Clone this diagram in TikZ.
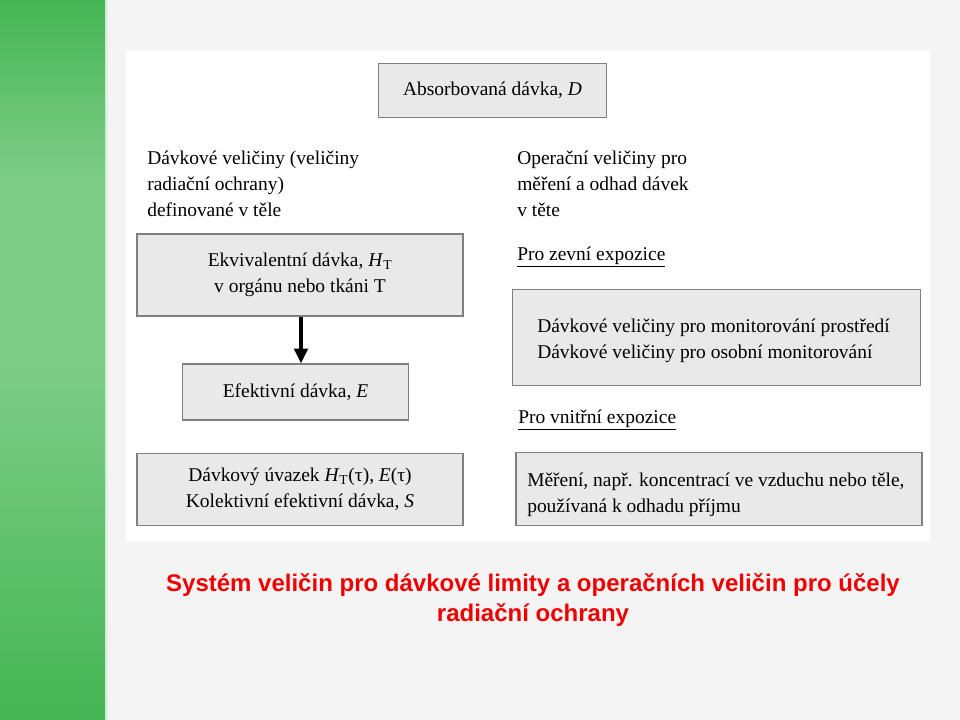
\documentclass[tikz,border=0pt]{standalone}
\usepackage{fontspec}
\setmainfont{Liberation Serif}
\newfontfamily\titlefont{Liberation Sans}
\usetikzlibrary{positioning,arrows.meta}
\usepackage{xcolor}
\definecolor{bgpage}{HTML}{F4F4F4}
\definecolor{boxfill}{HTML}{E9E9E9}
\definecolor{boxline}{HTML}{7F7F7F}
\definecolor{greentop}{RGB}{68,182,84}
\definecolor{greenmid}{RGB}{126,205,135}
\definecolor{titlered}{HTML}{F00000}

\begin{document}
\begin{tikzpicture}[
    x=0.75pt, y=-0.75pt,
    font=\fontsize{14.6}{19.5}\selectfont,
    qbox/.style={
        rectangle, draw=boxline, fill=boxfill, line width=0.9pt,
        inner sep=0pt, align=center
    },
    heading/.style={anchor=north west, align=left, inner sep=0pt},
    subhead/.style={anchor=west, inner sep=0pt},
    arrow/.style={-{Triangle[width=10pt,length=11pt]}, line width=3pt, black}
]
% page, green strip and white panel
\useasboundingbox (0,0) rectangle (960,720);
\fill[bgpage] (0,0) rectangle (960,720);
\shade[top color=greentop, bottom color=greenmid, middle color=greenmid]
    (0,0) rectangle (105,360);
\shade[top color=greenmid, bottom color=greentop]
    (0,360) rectangle (105,720);
\shade[left color=greenmid!40, right color=bgpage] (105,0) rectangle (108,720);
\fill[white] (126,50) rectangle (930,542);

% left column
\node[qbox, minimum width=171pt, minimum height=41pt] (absd) at (492.5,90.5)
    {Absorbovaná dávka, \textit{D}};
\node[heading] (dosehead) at (147,151)
    {Dávkové veličiny (veličiny\\radiační ochrany)\\definované v těle};
\node[qbox, minimum width=244.5pt, minimum height=61.5pt] (equiv) at (300,275)
    {Ekvivalentní dávka, \textit{H}\textsubscript{T}\\v orgánu nebo tkáni T};
\node[qbox, minimum width=170pt, minimum height=42pt] (eff) at (295.5,392)
    {Efektivní dávka, \textit{E}};
\node[qbox, minimum width=244.5pt, minimum height=54.5pt] (commit) at (300,489.5)
    {Dávkový úvazek \textit{H}\textsubscript{T}(τ), \textit{E}(τ)\\Kolektivní efektivní dávka, \textit{S}};
\draw[arrow] (equiv.south -| 301,0) -- (eff.north -| 301,0);

% right column
\node[heading] (ophead) at (517,151)
    {Operační veličiny pro\\měření a odhad dávek\\v těte};
\node[subhead] (extern) at (517,257) {\underline{Pro zevní expozice}};
\node[qbox, minimum width=306.5pt, minimum height=72.5pt] (monit) at (716.5,337.5) {};
\node[anchor=west, align=left, inner sep=0pt] (monittext) at (537,341)
    {Dávkové veličiny pro monitorování prostředí\\Dávkové veličiny pro osobní monitorování};
\node[subhead] (intern) at (518,420) {\underline{Pro vnitřní expozice}};
\node[qbox, minimum width=304.5pt, minimum height=55pt] (intake) at (719,489) {};
\node[anchor=west, align=left, inner sep=0pt] (intaketext) at (527,495)
    {Měření, např. koncentrací ve vzduchu nebo těle,\\používaná k odhadu příjmu};

% caption
\node[font=\titlefont\bfseries\fontsize{18}{22.5}\selectfont, text=titlered,
      align=center, inner sep=0pt] (caption) at (533,600)
    {Systém veličin pro dávkové limity a operačních veličin pro účely\\radiační ochrany};
\end{tikzpicture}
\end{document}
